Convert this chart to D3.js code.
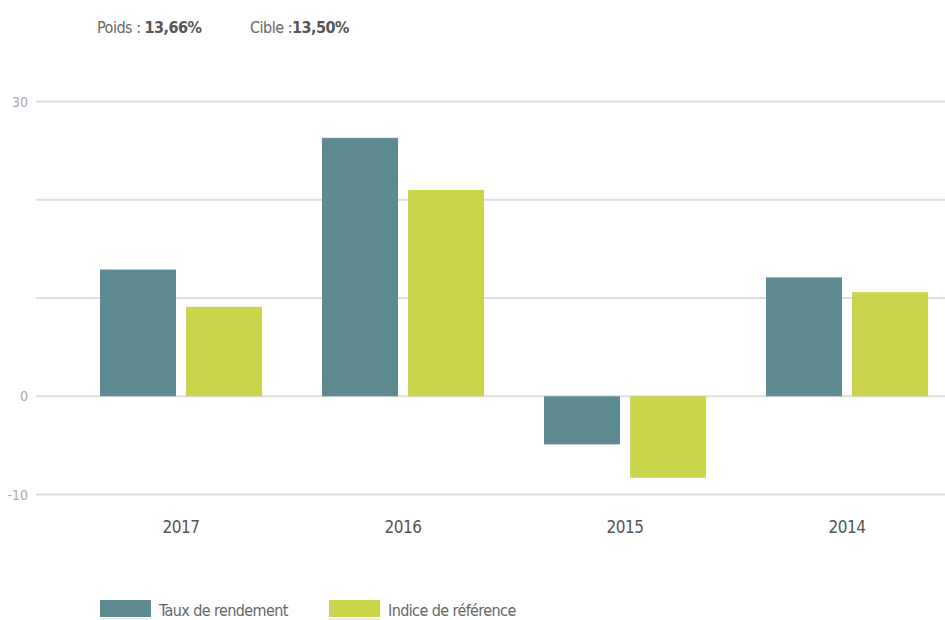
<!DOCTYPE html>
<html>
<head>
<meta charset="utf-8">
<script src="https://cdn.jsdelivr.net/npm/d3@7"></script>
<style>
  body { margin: 0; background: #fff; }
  svg text { font-family: "DejaVu Sans Condensed", "Liberation Sans Narrow", "Roboto", sans-serif; }
</style>
</head>
<body>
<div id="chart"></div>
<script>
// Données
const years = ['2017', '2016', '2015', '2014'];
const series = ['Taux de rendement', 'Indice de référence'];
const tauxRendement = [12.9, 26.3, -4.9, 12.1];
const indiceReference = [9.1, 21.0, -8.3, 10.6];
const yTicks = [-10, 0, 10, 20, 30];
const yTickLabels = ['-10', '0', '', '', '30'];
const colors = ['#5e8a92', '#cad54b'];

const width = 945, height = 620;

const svg = d3.select('#chart')
    .append('svg')
    .attr('width', width)
    .attr('height', height);

// En-tête
const header = svg.append('text')
    .attr('x', 97)
    .attr('y', 33)
    .style('font-size', '16px')
    .style('letter-spacing', '-0.5px')
    .attr('fill', '#666');
header.append('tspan').text('Poids : ');
header.append('tspan').attr('font-weight', 'bold').attr('fill', '#555').text('13,66%');

const header2 = svg.append('text')
    .attr('x', 250)
    .attr('y', 33)
    .style('font-size', '16px')
    .style('letter-spacing', '-0.5px')
    .attr('fill', '#666');
header2.append('tspan').text('Cible :');
header2.append('tspan').attr('font-weight', 'bold').attr('fill', '#555').text('13,50%');

// Echelles
const y = d3.scaleLinear()
    .domain([-10, 30])
    .range([494.5, 101.5]);

const x0 = d3.scaleBand()
    .domain(years)
    .range([70, 958])
    .padding(0);

const x1 = d3.scaleBand()
    .domain(series)
    .range([30, 192])
    .paddingInner(10 / 86)
    .paddingOuter(0);

// Grille
svg.append('g')
    .selectAll('line')
    .data(yTicks)
    .enter()
    .append('line')
    .attr('x1', 36)
    .attr('x2', width)
    .attr('y1', d => y(d))
    .attr('y2', d => y(d))
    .attr('stroke', '#dedede')
    .attr('stroke-width', 2);

svg.append('g')
    .selectAll('text')
    .data(yTicks)
    .enter()
    .append('text')
    .attr('x', 28)
    .attr('y', d => y(d) + 5)
    .attr('text-anchor', 'end')
    .attr('fill', '#aaa')
    .style('font-size', '14px')
    .text((d, i) => yTickLabels[i]);

// Barres
const rows = years.map((yr, i) => ({year: yr, values: [tauxRendement[i], indiceReference[i]]}));

const groups = svg.selectAll('.group')
    .data(rows)
    .enter()
    .append('g')
    .attr('class', 'group')
    .attr('transform', d => `translate(${x0(d.year)},0)`);

groups.selectAll('rect')
    .data(d => d.values.map((v, i) => ({key: series[i], value: v, i: i})))
    .enter()
    .append('rect')
    .attr('x', d => x1(d.key))
    .attr('width', x1.bandwidth())
    .attr('y', d => y(Math.max(0, d.value)))
    .attr('height', d => Math.abs(y(d.value) - y(0)))
    .attr('fill', d => colors[d.i]);

// Axe X
svg.append('g')
    .selectAll('text')
    .data(years)
    .enter()
    .append('text')
    .attr('x', d => x0(d) + x0.bandwidth() / 2)
    .attr('y', 533)
    .attr('text-anchor', 'middle')
    .attr('fill', '#555')
    .style('font-size', '17px')
    .style('letter-spacing', '-0.5px')
    .text(d => d);

// Légende
const legendX = [100, 329];
const legend = svg.selectAll('.legend')
    .data(series)
    .enter()
    .append('g')
    .attr('class', 'legend')
    .attr('transform', (d, i) => `translate(${legendX[i]},600)`);

legend.append('rect')
    .attr('y', 18)
    .attr('width', 51)
    .attr('height', 3)
    .attr('fill', '#eee');

legend.append('rect')
    .attr('width', 51)
    .attr('height', 17)
    .attr('fill', (d, i) => colors[i]);

legend.append('text')
    .attr('x', 59)
    .attr('y', 16)
    .attr('fill', '#666')
    .style('font-size', '16px')
    .style('letter-spacing', '-0.6px')
    .text(d => d);
</script>
</body>
</html>
